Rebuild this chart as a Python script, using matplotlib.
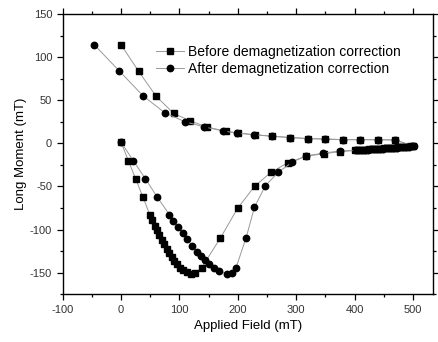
import matplotlib
matplotlib.use("Agg")
import matplotlib.pyplot as plt
from matplotlib.ticker import MultipleLocator

plt.rcParams['font.family'] = ['Liberation Sans', 'DejaVu Sans']
plt.rcParams['axes.unicode_minus'] = False

# Before demagnetization correction (squares)
before_x = [0, 12.6, 25, 37.7, 49.7, 53.7, 57.7, 61.2, 65.7, 69.8, 73.7, 78.3,
            82.8, 86.9, 91.4, 96, 101, 106.8, 112.6, 119.4, 127.4, 138.3, 170,
            200, 229, 257, 286, 317, 347, 375,
            400, 405, 410, 415, 420, 425, 430, 435, 440, 445, 450, 455, 460,
            465, 470, 475, 480, 485, 490, 495, 500,
            470, 440, 410, 380, 350, 320, 290, 259, 230, 200, 180, 148, 119,
            90, 60, 30, 0]
before_y = [1.4, -20, -41, -62.5, -83.3, -89.4, -95.6, -101, -106.4, -111.7,
            -117.1, -122, -127.1, -131.8, -136.4, -140.2, -144, -147.1, -149.4,
            -151, -150.2, -144, -110, -75, -49.6, -33.5, -22.4, -15, -12, -9.6,
            -8.2, -8.0, -7.8, -7.5, -7.3, -7.0, -6.8, -6.6, -6.3, -6.1, -5.9,
            -5.6, -5.4, -5.2, -4.9, -4.7, -4.4, -4.2, -3.9, -3.6, -3.3,
            4, 4.3, 4.3, 4.3, 5, 5.6, 6.8, 8.3, 10, 12, 14, 18.9, 26,
            34.8, 54.8, 83.7, 114.5]

# After demagnetization correction (circles)
after_x = [0, 21, 41.7, 62.3, 82.8, 89.7, 98.3, 105.7, 113.7, 121.7, 129.8,
           136.6, 144, 151.4, 159.4, 168.6, 181.2, 189.7, 197.1, 214.3, 228.6,
           247.4, 269.7, 293.7, 316.6, 346.8, 375.4,
           403, 408, 413, 418, 423, 428, 433, 438, 443, 448, 453, 458, 463,
           468, 473, 478, 483, 488, 493, 498, 502,
           470, 440, 410, 380, 350, 320, 289, 258, 227, 198, 174, 143, 110,
           76, 38, -3, -46]
after_y = [1.4, -20, -41, -62.5, -82.5, -90.2, -97.1, -104, -111, -118.6,
           -125.5, -130.6, -135.6, -140.2, -144, -147.9, -151.7, -149.8, -144,
           -109.4, -74, -49, -33.3, -21.7, -14.4, -11.4, -8.7,
           -8.2, -8.0, -7.8, -7.5, -7.3, -7.0, -6.8, -6.6, -6.3, -6.1, -5.9,
           -5.6, -5.4, -5.2, -4.9, -4.7, -4.4, -4.2, -3.9, -3.6, -3.3,
           4, 4.3, 4.3, 4.3, 5, 5.6, 6.8, 8.3, 10, 12, 14.5, 19, 25,
           35, 55, 84, 114.5]

fig = plt.figure(figsize=(4.38, 3.42), dpi=100)
ax = fig.add_axes([0.143, 0.1395, 0.845, 0.8195])

ax.plot(before_x, before_y, color='#999999', lw=0.7, marker='s', ms=4.2,
        mfc='black', mec='black', label='Before demagnetization correction')
ax.plot(after_x, after_y, color='#999999', lw=0.7, marker='o', ms=4.6,
        mfc='black', mec='black', label='After demagnetization correction')

ax.set_xlim(-100, 534)
ax.set_ylim(-175, 150)
ax.xaxis.set_major_locator(MultipleLocator(100))
ax.xaxis.set_minor_locator(MultipleLocator(50))
ax.yaxis.set_major_locator(MultipleLocator(50))
ax.yaxis.set_minor_locator(MultipleLocator(25))

ax.tick_params(which='both', direction='out', top=True, right=True,
               labelsize=8, width=0.9, labelcolor='#333333')
ax.tick_params(which='major', length=4)
ax.tick_params(which='minor', length=2.5)
for s in ax.spines.values():
    s.set_linewidth(1.0)

ax.set_xlabel('Applied Field (mT)', fontsize=9.5, labelpad=4)
ax.set_ylabel('Long Moment (mT)', fontsize=9.5, labelpad=2)

ax.legend(loc='upper left', bbox_to_anchor=(0.226, 0.923), frameon=False,
          fontsize=10, handlelength=2.0, handletextpad=0.3, borderpad=0.2,
          labelspacing=0.2, markerscale=1.0)

fig.savefig('out.png', dpi=100)
